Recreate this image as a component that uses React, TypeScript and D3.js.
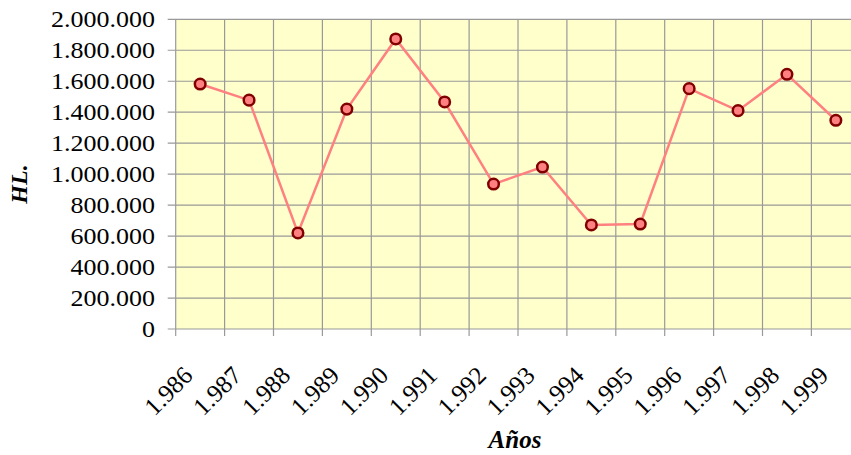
import React from "react";
import * as d3 from "d3";

const years = ["1.986", "1.987", "1.988", "1.989", "1.990", "1.991", "1.992", "1.993", "1.994", "1.995", "1.996", "1.997", "1.998", "1.999"];
const values = [1582000, 1478000, 620000, 1420000, 1873000, 1466000, 936000, 1046000, 672000, 678000, 1552000, 1410000, 1645000, 1348000];
const yTicks = [0, 200000, 400000, 600000, 800000, 1000000, 1200000, 1400000, 1600000, 1800000, 2000000];

const W = 851;
const H = 455;
const left = 175.7;
const right = 860.3;
const top = 19.3;
const bottom = 329;

const fmt = (v: number) => (v === 0 ? "0" : d3.format(",")(v).replace(/,/g, "."));

export default function App() {
  const x = d3.scaleBand<string>().domain(years).range([left, right]).paddingInner(0).paddingOuter(0);
  const y = d3.scaleLinear().domain([0, 2000000]).range([bottom, top]);
  const bw = x.bandwidth();
  const line = d3
    .line<number>()
    .x((_, i) => (x(years[i]) as number) + bw / 2)
    .y((d) => y(d));
  const font = "'Times New Roman', 'Liberation Serif', Tinos, serif";
  const edges = years.map((yr) => x(yr) as number).concat([right]);

  return (
    <svg width={W} height={H} style={{ position: "absolute", left: 0, top: 0, background: "#fff" }}>
      <rect x={left} y={top} width={right - left} height={bottom - top} fill="#FFFFCC" />
      {yTicks.map((t) => (
        <line key={"h" + t} x1={left - 8} x2={right} y1={y(t)} y2={y(t)} stroke="#999" strokeWidth={1.2} />
      ))}
      {edges.map((e, i) => (
        <line key={"v" + i} x1={e} x2={e} y1={top} y2={bottom + 7} stroke="#999" strokeWidth={1.2} />
      ))}
      <path d={line(values) || ""} fill="none" stroke="#FF8080" strokeWidth={2.5} />
      {values.map((v, i) => (
        <circle key={"c" + i} cx={(x(years[i]) as number) + bw / 2} cy={y(v)} r={5.3} fill="#FF8080" stroke="#800000" strokeWidth={2.5} />
      ))}
      {yTicks.map((t) => (
        <text
          key={"yl" + t}
          transform={`translate(155 ${y(t)}) scale(1.13 1)`}
          dy="0.35em"
          textAnchor="end"
          style={{ fontFamily: font, fontSize: "23px" }}
          fill="#000"
        >
          {fmt(t)}
        </text>
      ))}
      {years.map((yr) => {
        const cx = (x(yr) as number) + bw / 2;
        return (
          <text
            key={"xl" + yr}
            transform={`translate(${cx - 6} ${377}) rotate(-45)`}
            textAnchor="end"
            style={{ fontFamily: font, fontSize: "25px" }}
            fill="#000"
          >
            {yr}
          </text>
        );
      })}
      <text
        transform={`translate(27 ${184}) rotate(-90)`}
        textAnchor="middle"
        style={{ fontFamily: font, fontSize: "24px", fontWeight: "bold", fontStyle: "italic" }}
      >
        HL.
      </text>
      <text
        x={(left + right) / 2 - 3}
        y={448}
        textAnchor="middle"
        style={{ fontFamily: font, fontSize: "25px", fontWeight: "bold", fontStyle: "italic" }}
      >
        Años
      </text>
    </svg>
  );
}
